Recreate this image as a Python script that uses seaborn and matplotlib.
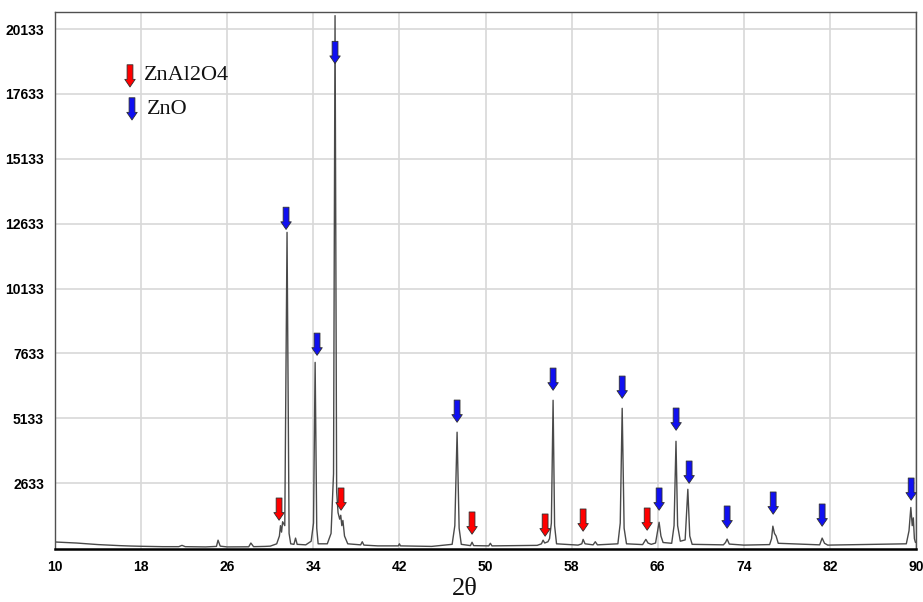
import matplotlib
matplotlib.use("Agg")
import matplotlib.pyplot as plt
import seaborn as sns
import pandas as pd

# ---- data ----
two_theta = [10.0, 11.0, 12.0, 13.0, 14.0, 15.0, 16.0, 17.0, 18.0, 20.0, 21.5, 21.8, 22.1, 24.0,
             25.0, 25.15, 25.35, 26.0, 28.0, 28.2, 28.45, 29.5, 30.0, 30.6, 30.85, 30.95, 31.05,
             31.15, 31.35, 31.56, 31.75, 31.9, 32.2, 32.35, 32.5, 33.3, 33.8, 34.02, 34.17, 34.32,
             34.45, 35.3, 35.65, 35.88, 36.02, 36.17, 36.3, 36.45, 36.55, 36.65, 36.75, 36.9, 37.2,
             38.4, 38.55, 38.7, 40.0, 41.9, 42.0, 42.1, 45.0, 46.9, 47.15, 47.36, 47.55, 47.75, 48.6,
             48.75, 48.9, 50.3, 50.45, 50.6, 54.8, 55.2, 55.35, 55.5, 55.8, 55.95, 56.12, 56.28,
             56.42, 56.6, 58.6, 58.95, 59.07, 59.25, 60.0, 60.2, 60.4, 62.3, 62.52, 62.7, 62.88,
             63.1, 64.6, 64.9, 65.1, 65.4, 65.8, 66.0, 66.13, 66.3, 66.5, 67.3, 67.52, 67.7, 67.85,
             68.1, 68.55, 68.8, 68.98, 69.2, 72.1, 72.3, 72.45, 72.65, 74.0, 76.4, 76.58, 76.7,
             76.85, 77.0, 77.2, 81.05, 81.28, 81.5, 81.8, 89.1, 89.35, 89.52, 89.65, 89.75, 89.85,
             89.95]
intensity = [370, 350, 330, 300, 270, 250, 230, 215, 205, 190, 190, 240, 190, 180,
             200, 440, 210, 180, 185, 330, 190, 200, 210, 300, 600, 1000, 750,
             1150, 1000, 12300, 700, 300, 280, 520, 280, 260, 400, 1100, 7290, 900,
             300, 300, 700, 3000, 20650, 2300, 1500, 1250, 1400, 1000, 1200, 600, 300,
             260, 380, 250, 220, 220, 300, 220, 200, 280, 1000, 4600, 900, 280, 230,
             360, 230, 220, 320, 220, 240, 300, 440, 330, 380, 500, 1100, 5830,
             1000, 300, 250, 300, 470, 300, 260, 380, 260, 300, 1100, 5520, 900,
             300, 270, 470, 330, 280, 330, 800, 1130, 600, 350, 320, 1000, 4250, 1000,
             400, 450, 2400, 600, 280, 260, 350, 480, 290, 250, 270, 500, 980,
             700, 600, 320, 260, 520, 320, 250, 300, 800, 1700, 1000, 1300, 500,
             350]

# arrow markers: (2theta, intensity at arrow tip)
znal2o4_x = [30.82, 36.58, 48.75, 55.54, 59.07, 65.02]
znal2o4_tip = [1208, 1594, 670, 592, 785, 823]
zno_x = [31.47, 34.35, 36.02, 47.36, 56.28, 62.70, 66.13, 67.71, 68.92, 72.45, 76.73, 81.28, 89.55]
zno_tip = [12412, 7561, 18803, 4982, 6214, 5906, 1594, 4674, 2633, 900, 1440, 977, 1978]

x_ticks = [10, 18, 26, 34, 42, 50, 58, 66, 74, 82, 90]
y_ticks = [2633, 5133, 7633, 10133, 12633, 15133, 17633, 20133]

legend_labels = ["ZnAl2O4", "ZnO"]
RED = "#ff0000"
BLUE = "#1010f0"

sns.set_theme(style="white")
plt.rcParams["font.family"] = ["Liberation Sans", "DejaVu Sans"]

fig = plt.figure(figsize=(9.23, 6.02), dpi=100)
ax = fig.add_axes([55 / 923, 1 - 549 / 602, (916 - 55) / 923, (549 - 12) / 602])

df = pd.DataFrame({"two_theta": two_theta, "intensity": intensity})
sns.lineplot(data=df, x="two_theta", y="intensity", ax=ax, color="#4a4a4a",
             linewidth=1.0, estimator=None, sort=False)

ax.set_xlim(10, 90)
ax.set_ylim(100, 20790)
ax.set_xticks(x_ticks)
ax.set_yticks(y_ticks)
ax.set_xticklabels([str(t) for t in x_ticks], fontsize=10, fontweight="bold", color="black")
ax.set_yticklabels([str(t) for t in y_ticks], fontsize=10, fontweight="bold", color="black")
ax.set_xlabel("")
ax.set_ylabel("")
ax.grid(True, color="#d8d8d8", linewidth=1.2)
ax.set_axisbelow(True)
ax.tick_params(axis="both", length=5, color="#c8c8c8", width=1.2, pad=3)

for side in ["top", "left", "right"]:
    ax.spines[side].set_color("#505050")
    ax.spines[side].set_linewidth(1.0)
ax.spines["bottom"].set_color("black")
ax.spines["bottom"].set_linewidth(1.8)

arrow_style = "simple,head_length=0.55,head_width=0.75,tail_width=0.42"


def draw_arrow(x, y, color, coords="data"):
    ax.annotate("", xy=(x, y), xycoords=coords, xytext=(0, 16), textcoords="offset points",
                arrowprops=dict(arrowstyle=arrow_style, mutation_scale=10, fc=color,
                                ec="#303030", lw=0.6, shrinkA=0, shrinkB=0),
                annotation_clip=False)


for x, t in zip(znal2o4_x, znal2o4_tip):
    draw_arrow(x, t, RED)
for x, t in zip(zno_x, zno_tip):
    draw_arrow(x, t, BLUE)

# legend (arrows + serif text)
draw_arrow(130 / 923, 1 - 87 / 602, RED, coords="figure fraction")
draw_arrow(132 / 923, 1 - 120 / 602, BLUE, coords="figure fraction")
fig.text(144 / 923, 1 - 76 / 602, legend_labels[0], fontsize=16, va="center", ha="left",
         family=["Liberation Serif", "DejaVu Serif"], color="#111111")
fig.text(147 / 923, 1 - 110 / 602, legend_labels[1], fontsize=16, va="center", ha="left",
         family=["Liberation Serif", "DejaVu Serif"], color="#111111")

fig.text(465 / 923, 1 - 589 / 602, "2θ", fontsize=19, va="center", ha="center",
         family=["Liberation Serif", "DejaVu Serif"], color="#111111")

fig.savefig("out.png", dpi=100)
